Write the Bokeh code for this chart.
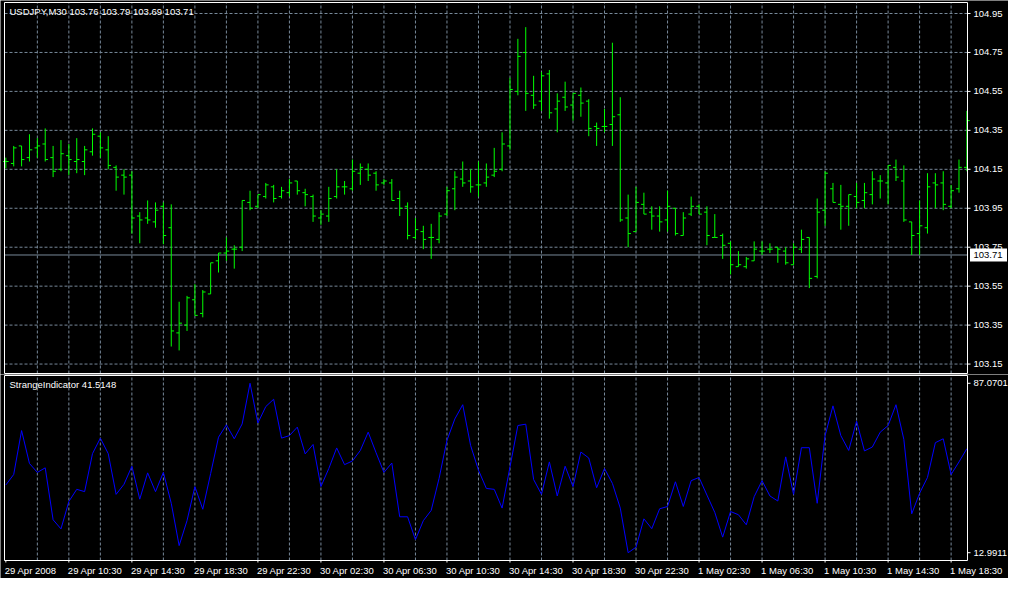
from bokeh.plotting import figure
from bokeh.layouts import column
from bokeh.models import Range1d
from bokeh.core.properties import value
from bokeh.embed import file_html
from bokeh.resources import INLINE

# ---------------- data ----------------
symbol = "USDJPY,M30"
last_bar = [103.76, 103.79, 103.69, 103.71]          # O H L C of the live bar (header)
indicator_name = "StrangeIndicator"
indicator_last = 41.5148

opens = [104.19, 104.18, 104.27, 104.21, 104.26, 104.28, 104.21, 104.15, 104.22, 104.19,
         104.19, 104.24, 104.32, 104.25, 104.16, 104.12, 104.12, 103.91, 103.90, 103.88,
         103.96, 103.85, 103.31, 103.35, 103.48, 103.41, 103.51, 103.68, 103.72, 103.74,
         103.75, 103.98, 103.96, 104.01, 104.06, 104.01, 104.03, 104.09, 104.03, 104.01,
         103.90, 103.91, 104.01, 104.06, 104.05, 104.13, 104.15, 104.13, 104.08, 104.08,
         104.00, 103.96, 103.80, 103.83, 103.80, 103.79, 103.92, 104.05, 104.10, 104.09,
         104.07, 104.08, 104.12, 104.15, 104.27, 104.55, 104.75, 104.53, 104.50, 104.64,
         104.46, 104.52, 104.48, 104.53, 104.50, 104.37, 104.37, 104.38, 104.43, 103.90,
         103.83, 103.97, 103.93, 103.91, 103.89, 103.95, 103.81, 103.92, 103.96, 103.93,
         103.80, 103.81, 103.77, 103.65, 103.65, 103.68, 103.73, 103.74, 103.75, 103.73,
         103.66, 103.74, 103.80, 103.60, 103.94, 104.05, 103.97, 103.96, 104.01, 103.99,
         104.02, 104.09, 104.08, 104.16, 104.09, 103.88, 103.82, 103.85, 104.08, 104.08,
         103.96, 104.05, 104.16]
highs = [104.21, 104.27, 104.27, 104.33, 104.31, 104.36, 104.27, 104.30, 104.28, 104.31,
         104.27, 104.36, 104.34, 104.32, 104.17, 104.15, 104.14, 103.93, 103.99, 103.98,
         103.98, 103.97, 103.47, 103.50, 103.56, 103.53, 103.67, 103.72, 103.80, 103.76,
         103.99, 104.04, 104.02, 104.08, 104.07, 104.06, 104.10, 104.09, 104.05, 104.02,
         103.94, 104.06, 104.15, 104.09, 104.20, 104.18, 104.18, 104.14, 104.10, 104.10,
         104.04, 103.98, 103.90, 103.86, 103.87, 103.93, 104.06, 104.14, 104.19, 104.15,
         104.19, 104.18, 104.26, 104.34, 104.62, 104.82, 104.88, 104.63, 104.65, 104.66,
         104.54, 104.60, 104.54, 104.57, 104.51, 104.39, 104.46, 104.80, 104.52, 104.02,
         104.06, 104.03, 103.96, 103.96, 104.04, 103.95, 103.93, 104.01, 103.97, 103.96,
         103.92, 103.82, 103.78, 103.73, 103.70, 103.78, 103.78, 103.77, 103.75, 103.75,
         103.77, 103.84, 103.80, 104.00, 104.14, 104.08, 104.07, 104.02, 104.08, 104.08,
         104.14, 104.12, 104.17, 104.20, 104.17, 103.88, 103.99, 104.13, 104.13, 104.14,
         104.07, 104.20, 104.45]
lows = [104.155, 104.165, 104.165, 104.19, 104.21, 104.19, 104.11, 104.14, 104.12, 104.13,
        104.12, 104.22, 104.21, 104.15, 104.04, 104.02, 103.82, 103.77, 103.87, 103.85,
        103.765, 103.24, 103.22, 103.32, 103.40, 103.39, 103.51, 103.62, 103.68, 103.64,
        103.73, 103.94, 103.95, 104.00, 103.98, 104.00, 104.01, 104.02, 103.96, 103.88,
        103.865, 103.88, 104.00, 104.02, 104.04, 104.07, 104.09, 104.04, 104.07, 103.99,
        103.91, 103.79, 103.79, 103.74, 103.69, 103.77, 103.91, 103.94, 104.06, 104.03,
        104.01, 104.06, 104.11, 104.14, 104.25, 104.53, 104.45, 104.46, 104.45, 104.41,
        104.34, 104.45, 104.40, 104.42, 104.32, 104.27, 104.34, 104.27, 103.88, 103.75,
        103.83, 103.92, 103.84, 103.83, 103.83, 103.81, 103.81, 103.91, 103.92, 103.76,
        103.80, 103.69, 103.61, 103.65, 103.64, 103.68, 103.71, 103.72, 103.67, 103.66,
        103.66, 103.72, 103.54, 103.59, 103.86, 103.98, 103.84, 103.86, 103.95, 103.95,
        103.97, 104.00, 103.97, 104.09, 103.88, 103.71, 103.71, 103.82, 103.95, 103.94,
        103.95, 104.03, 104.14]
closes = [104.19, 104.26, 104.20, 104.25, 104.27, 104.20, 104.14, 104.23, 104.20, 104.20,
          104.25, 104.33, 104.26, 104.17, 104.11, 104.11, 103.90, 103.89, 103.89, 103.94,
          103.81, 103.32, 103.36, 103.49, 103.40, 103.52, 103.67, 103.72, 103.73, 103.74,
          103.99, 103.95, 104.02, 104.07, 104.00, 104.04, 104.08, 104.04, 104.02, 103.91,
          103.92, 104.00, 104.06, 104.06, 104.14, 104.16, 104.12, 104.07, 104.09, 103.99,
          103.95, 103.81, 103.84, 103.79, 103.80, 103.91, 104.04, 104.11, 104.08, 104.06,
          104.07, 104.11, 104.14, 104.28, 104.56, 104.73, 104.54, 104.48, 104.63, 104.44,
          104.50, 104.47, 104.54, 104.49, 104.36, 104.36, 104.37, 104.42, 103.89, 103.82,
          103.98, 103.92, 103.91, 103.88, 103.96, 103.82, 103.90, 103.96, 103.92, 103.81,
          103.80, 103.76, 103.66, 103.66, 103.69, 103.74, 103.73, 103.74, 103.74, 103.67,
          103.75, 103.79, 103.59, 103.93, 104.13, 103.98, 103.96, 104.02, 103.98, 104.03,
          104.10, 104.09, 104.17, 104.11, 103.89, 103.81, 103.86, 104.06, 104.07, 103.97,
          104.04, 104.16, 104.40]
indicator = [42.6, 47.2, 66.4, 52.0, 48.1, 50.1, 27.4, 23.4, 35.4, 40.7,
             39.7, 56.3, 63.1, 56.3, 38.5, 42.9, 50.8, 36.4, 47.9, 39.7,
             48.1, 34.6, 16.1, 27.0, 41.9, 32.0, 47.6, 63.5, 68.9, 62.8,
             69.3, 87.07, 69.7, 76.9, 80.1, 63.1, 64.2, 67.9, 56.2, 60.3,
             41.9, 49.8, 58.8, 51.5, 53.1, 57.7, 65.7, 56.7, 48.1, 52.2,
             28.7, 28.7, 18.7, 27.0, 31.5, 45.5, 62.1, 71.5, 77.7, 59.9,
             49.1, 41.1, 40.7, 32.5, 50.5, 68.6, 69.2, 45.0, 38.5, 52.7,
             37.8, 50.8, 41.9, 57.0, 54.4, 41.4, 49.8, 43.3, 32.5, 12.99,
             15.4, 27.8, 23.5, 32.2, 33.2, 44.0, 33.2, 44.5, 45.9, 38.2,
             30.6, 19.8, 31.0, 29.6, 25.2, 37.5, 44.5, 37.8, 35.6, 54.9,
             38.5, 58.9, 58.9, 34.6, 64.2, 77.2, 64.2, 57.7, 70.5, 57.5,
             59.2, 65.7, 68.6, 77.7, 62.5, 30.0, 39.0, 45.9, 61.1, 62.8,
             47.2, 52.7, 58.5]
price_ticks = [103.15, 103.35, 103.55, 103.75, 103.95, 104.15, 104.35, 104.55, 104.75, 104.95]
indicator_scale = [12.9911, 87.0701]
time_labels = ["29 Apr 2008", "29 Apr 10:30", "29 Apr 14:30", "29 Apr 18:30",
               "29 Apr 22:30", "30 Apr 02:30", "30 Apr 06:30", "30 Apr 10:30",
               "30 Apr 14:30", "30 Apr 18:30", "30 Apr 22:30", "1 May 02:30",
               "1 May 06:30", "1 May 10:30", "1 May 14:30", "1 May 18:30"]
bars_per_label = 8

# ---------------- style / layout (pixels) ----------------
BG = "black"
FG = "white"
BAR = "#00FF00"
GRID = "#778899"
LINE = "#0000FF"
FONT = "Liberation Sans"
FS = "9.5px"
W = 1008
H1, H2 = 374, 204
LEFT, RIGHT = 4, 41              # chart box left edge / room for price labels
TOP1, BOT1 = 2, 1
TOP2, BOT2 = 1, 18
TICK_PX = 2.8

n = len(closes)
idx = list(range(n))

chart_w = W - LEFT - RIGHT
xs, xe = -0.17, n - 1 + 0.08                 # bar-index span of the chart box
ppb = chart_w / (xe - xs)                      # pixels per bar
xr = Range1d(xs - LEFT / ppb, xe + RIGHT / ppb)
TICK = TICK_PX / ppb

# price pane: 0.005 per pixel of the original, 104.95 ~11 px under the box top
p_hi = price_ticks[-1] + 0.0565
p_lo = p_hi - 1.905
ch1 = H1 - TOP1 - BOT1
ppx = (p_hi - p_lo) / ch1
yr1 = Range1d(p_lo - BOT1 * ppx, p_hi + TOP1 * ppx)

# indicator pane
ch2 = H2 - TOP2 - BOT2
ipad = (indicator_scale[1] - indicator_scale[0]) * 8.0 / 174.0
i_lo, i_hi = indicator_scale[0] - ipad, indicator_scale[1] + ipad
ipx = (i_hi - i_lo) / ch2
yr2 = Range1d(i_lo - BOT2 * ipx, i_hi + TOP2 * ipx)

common = dict(output_backend="svg", toolbar_location=None, x_range=xr, width=W,
              x_axis_location=None, y_axis_location=None, min_border=0,
              background_fill_color=BG, border_fill_color=BG, outline_line_color=None)
p1 = figure(height=H1, y_range=yr1, **common)
p2 = figure(height=H2, y_range=yr2, **common)
for p in (p1, p2):
    p.grid.visible = False

txt = dict(text_font=value(FONT), text_font_size=value(FS), text_baseline="middle")
grid_x = list(range(4, n, 4))

# ---- price pane ----
p1.segment(x0=grid_x, y0=p_lo, x1=grid_x, y1=p_hi, line_color=GRID, line_dash="3 2", line_width=1)
p1.segment(x0=xs, y0=price_ticks, x1=xe, y1=price_ticks, line_color=GRID, line_dash="3 2", line_width=1)
last_close = last_bar[3]
p1.segment(x0=xs, y0=last_close, x1=xe, y1=last_close, line_color=GRID, line_width=1)

p1.segment(x0=idx, y0=lows, x1=idx, y1=highs, line_color=BAR, line_width=1)
p1.segment(x0=[i - TICK for i in idx], y0=opens, x1=idx, y1=opens, line_color=BAR, line_width=1)
p1.segment(x0=idx, y0=closes, x1=[i + TICK for i in idx], y1=closes, line_color=BAR, line_width=1)

p1.quad(left=xs, right=xe, bottom=p_lo, top=p_hi, fill_color=None, line_color=FG, line_width=1)

# price scale on the right
p1.segment(x0=xe, y0=price_ticks, x1=xe + 3 / ppb, y1=price_ticks, line_color=FG, line_width=1)
p1.text(x=xe, y=price_ticks, text=["%.2f" % v for v in price_ticks], x_offset=6,
        text_color=FG, text_align="left", **txt)
# live price marker
p1.rect(x=xe + 21 / ppb, y=last_close, width=37, height=13, width_units="screen",
        height_units="screen", fill_color=FG, line_color=None)
p1.text(x=xe, y=[last_close], text=["%.2f" % last_close], x_offset=6,
        text_color="black", text_align="left", **txt)

header = symbol + "  " + " ".join("%.2f" % v for v in last_bar)
p1.text(x=xs, y=p_hi - 9 * ppx, text=[header], x_offset=5, text_color=FG,
        text_align="left", **txt)

# ---- indicator pane ----
p2.segment(x0=grid_x, y0=i_lo, x1=grid_x, y1=i_hi, line_color=GRID, line_dash="3 2", line_width=1)
p2.line(idx, indicator, line_color=LINE, line_width=1)
p2.quad(left=xs, right=xe, bottom=i_lo, top=i_hi, fill_color=None, line_color=FG, line_width=1)

p2.segment(x0=xe, y0=indicator_scale, x1=xe + 3 / ppb, y1=indicator_scale, line_color=FG, line_width=1)
p2.text(x=xe, y=indicator_scale, text=["%.4f" % v for v in indicator_scale], x_offset=6,
        text_color=FG, text_align="left", **txt)
p2.text(x=xs, y=i_hi - 9 * ipx, text=["%s %.4f" % (indicator_name, indicator_last)],
        x_offset=5, text_color=FG, text_align="left", **txt)

# time axis under the indicator pane
label_x = [i * bars_per_label for i in range(len(time_labels))]
p2.segment(x0=label_x, y0=i_lo, x1=label_x, y1=i_lo - 2 * ipx, line_color=FG, line_width=1)
p2.text(x=label_x, y=i_lo - 10 * ipx, text=time_labels, x_offset=-1,
        text_color=FG, text_align="left", **txt)

layout = column(p1, p2, spacing=0)
open("out.html", "w").write(file_html(layout, INLINE))
